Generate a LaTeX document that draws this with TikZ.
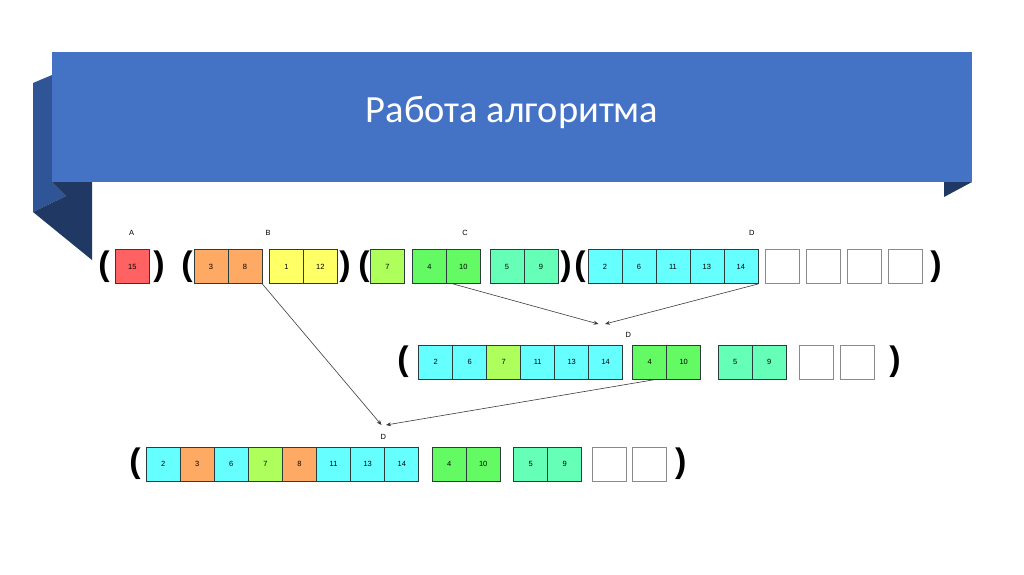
\documentclass[tikz,border=0pt]{standalone}
\usepackage{fontspec}
\setmainfont{Liberation Sans}
\newfontfamily\titlefont{Carlito}
\usetikzlibrary{arrows.meta}
\definecolor{ribbon}{HTML}{4472C4}
\definecolor{ribbonmid}{HTML}{2F5597}
\definecolor{ribbondark}{HTML}{203864}
\definecolor{cred}{HTML}{FF6262}
\definecolor{corange}{HTML}{FFAA64}
\definecolor{cyellow}{HTML}{FFFF66}
\definecolor{clime}{HTML}{AEFF5C}
\definecolor{cgreen}{HTML}{64FA64}
\definecolor{cmint}{HTML}{66FFB8}
\definecolor{ccyan}{HTML}{66FFFF}
\definecolor{cellborder}{HTML}{2A3C3C}
\definecolor{emptyborder}{HTML}{8A8A8A}
\definecolor{arrowgray}{HTML}{3A3A3A}
\begin{document}
\begin{tikzpicture}[x=1pt,y=-1pt,
  cell/.style={draw=cellborder, line width=0.8pt, minimum width=34pt, minimum height=34pt, inner sep=0pt, anchor=west, font=\fontsize{7.5}{8}\selectfont},
  emptycell/.style={cell, draw=emptyborder, fill=white},
  paren/.style={font=\bfseries\fontsize{34}{34}\selectfont, inner sep=0pt},
  lbl/.style={font=\fontsize{7.5}{8}\selectfont, inner sep=0pt},
  conn/.style={draw=arrowgray, line width=0.6pt, -{Stealth[length=5pt,width=4pt]}}]
\useasboundingbox (0,0) rectangle (1024,574);
% ribbon
\fill[ribbonmid] (33,83) -- (52,75) -- (52,182) -- (66,196) -- (33,212) -- cycle;
\fill[ribbondark] (52,182) -- (92,182) -- (92,260) -- (33,212) -- (66,196) -- cycle;
\fill[ribbondark] (944,182) -- (972,182) -- (944,197) -- cycle;
\fill[ribbon] (52,51.5) rectangle (972,182);
\node[text=white, font=\titlefont\fontsize{38.5}{40}\selectfont, anchor=base, inner sep=0pt] (title) at (512,122) {Работа алгоритма};
% row 1
\def\ya{266.5}
\node[lbl] (la) at (131.7,233) {A};
\node[lbl] (lb) at (268,233) {B};
\node[lbl] (lc) at (465,233) {C};
\node[lbl] (ld) at (751.7,233) {D};
\node[paren] (p1) at (104,\ya) {(};
\node[cell, fill=cred] (a15) at (115,\ya) {15};
\node[paren] (p2) at (159,\ya) {)};
\node[paren] (p3) at (187,\ya) {(};
\node[cell, fill=corange] (b3) at (193.5,\ya) {3};
\node[cell, fill=corange] (b8) at (227.5,\ya) {8};
\node[cell, fill=cyellow] (b1) at (269,\ya) {1};
\node[cell, fill=cyellow] (b12) at (303,\ya) {12};
\node[paren] (p4) at (345,\ya) {)};
\node[paren] (p5) at (364,\ya) {(};
\node[cell, fill=clime] (c7) at (370,\ya) {7};
\node[cell, fill=cgreen] (c4) at (412,\ya) {4};
\node[cell, fill=cgreen] (c10) at (446,\ya) {10};
\node[cell, fill=cmint] (c5) at (489.5,\ya) {5};
\node[cell, fill=cmint] (c9) at (523.5,\ya) {9};
\node[paren] (p6) at (566,\ya) {)};
\node[paren] (p7) at (580,\ya) {(};
\node[cell, fill=ccyan] (d2) at (587.5,\ya) {2};
\node[cell, fill=ccyan] (d6) at (621.5,\ya) {6};
\node[cell, fill=ccyan] (d11) at (655.5,\ya) {11};
\node[cell, fill=ccyan] (d13) at (689.5,\ya) {13};
\node[cell, fill=ccyan] (d14) at (723.5,\ya) {14};
\node[emptycell] (e1) at (765,\ya) {};
\node[emptycell] (e2) at (806,\ya) {};
\node[emptycell] (e3) at (847,\ya) {};
\node[emptycell] (e4) at (887.5,\ya) {};
\node[paren] (p8) at (936,\ya) {)};
% row 2
\def\yb{362}
\node[lbl] (ld2) at (628.3,335) {D};
\node[paren] (q1) at (403,\yb) {(};
\node[cell, fill=ccyan] (r2) at (418.3,\yb) {2};
\node[cell, fill=ccyan] (r6) at (452.3,\yb) {6};
\node[cell, fill=clime] (r7) at (486.3,\yb) {7};
\node[cell, fill=ccyan] (r11) at (520.3,\yb) {11};
\node[cell, fill=ccyan] (r13) at (554.3,\yb) {13};
\node[cell, fill=ccyan] (r14) at (588.3,\yb) {14};
\node[cell, fill=cgreen] (r4) at (632.3,\yb) {4};
\node[cell, fill=cgreen] (r10) at (666.3,\yb) {10};
\node[cell, fill=cmint] (r5) at (717.7,\yb) {5};
\node[cell, fill=cmint] (r9) at (751.7,\yb) {9};
\node[emptycell] (re1) at (799.3,\yb) {};
\node[emptycell] (re2) at (840,\yb) {};
\node[paren] (q2) at (895,\yb) {)};
% row 3
\def\yc{464}
\node[lbl] (ld3) at (383.3,436.7) {D};
\node[paren] (s1) at (135,\yc) {(};
\node[cell, fill=ccyan] (t2) at (145.7,\yc) {2};
\node[cell, fill=corange] (t3) at (179.8,\yc) {3};
\node[cell, fill=ccyan] (t6) at (213.9,\yc) {6};
\node[cell, fill=clime] (t7) at (248,\yc) {7};
\node[cell, fill=corange] (t8) at (282.1,\yc) {8};
\node[cell, fill=ccyan] (t11) at (316.2,\yc) {11};
\node[cell, fill=ccyan] (t13) at (350.3,\yc) {13};
\node[cell, fill=ccyan] (t14) at (384.4,\yc) {14};
\node[cell, fill=cgreen] (t4) at (431.7,\yc) {4};
\node[cell, fill=cgreen] (t10) at (465.8,\yc) {10};
\node[cell, fill=cmint] (t5) at (513.3,\yc) {5};
\node[cell, fill=cmint] (t9) at (547.4,\yc) {9};
\node[emptycell] (te1) at (591.7,\yc) {};
\node[emptycell] (te2) at (632.3,\yc) {};
\node[paren] (s2) at (680.7,\yc) {)};
% arrow targets
\coordinate (m1) at (598.5,324);
\coordinate (m2) at (605,324);
\coordinate (n1) at (381.5,425);
\coordinate (n2) at (386,425);
% connectors
\draw[conn] ([xshift=7pt]c10.south west) -- (m1);
\draw[conn] (d14.south east) -- (m2);
\draw[conn] (b8.south east) -- (n1);
\draw[conn] ([xshift=-11pt]r4.south east) -- (n2);
\end{tikzpicture}
\end{document}
